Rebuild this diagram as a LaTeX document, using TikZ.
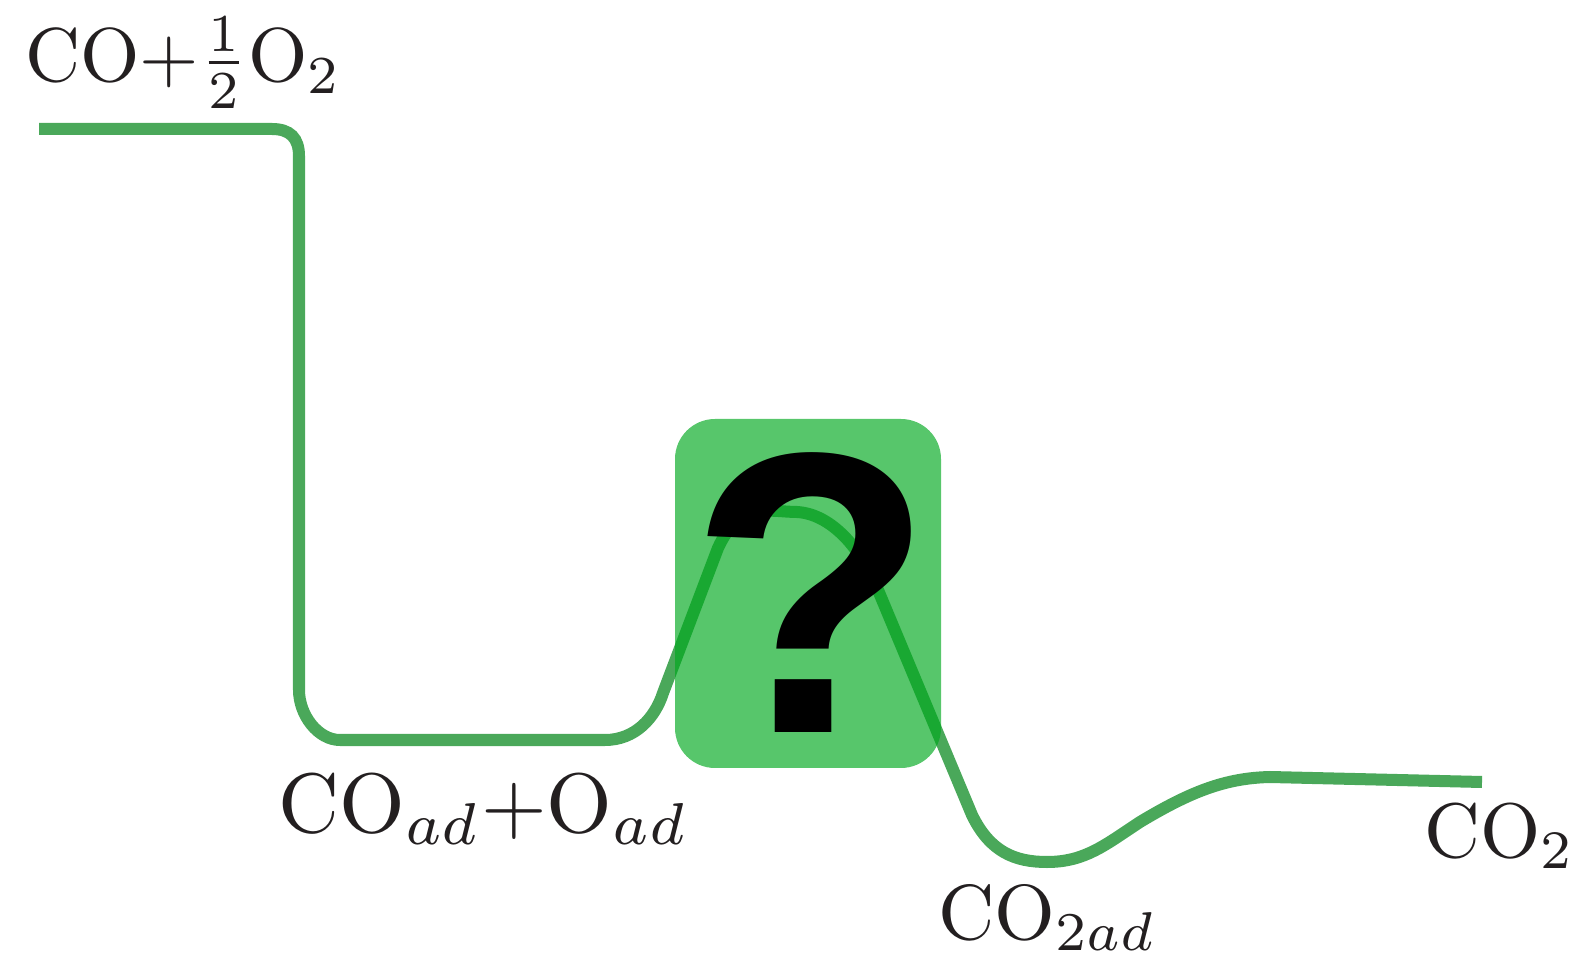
\documentclass[tikz,border=0pt]{standalone}
\usepackage{fontspec}
\newfontfamily\qmarkfont{Liberation Sans}
\usetikzlibrary{positioning}
\definecolor{pathgreen}{RGB}{74,168,90}
\definecolor{boxgreen}{RGB}{0,169,30}
\definecolor{labelgray}{RGB}{35,31,32}

\begin{document}
\begin{tikzpicture}[x=0.01cm, y=-0.01cm,
    energy/.style={line width=0.12cm, pathgreen},
    species/.style={inner sep=0pt, anchor=base west, text=labelgray},
    unknown/.style={fill=boxgreen, fill opacity=0.66, rounded corners=0.4cm}]
    \useasboundingbox (0,0) rectangle (1578,958);

    % Reaction path
    \draw[energy] (39,129) -- (272,129)
      .. controls (290,129) and (299,138) .. (299,156) -- (299,690)
      .. controls (299,715) and (318,740) .. (340,740) -- (605,740)
      .. controls (635,740) and (655,718) .. (663,693) -- (718,548)
      .. controls (740,500) and (770,512) .. (797,512)
      .. controls (832,514) and (862,550) .. (878,590) -- (972,815)
      .. controls (990,852) and (1015,862) .. (1047,862)
      .. controls (1085,862) and (1105,845) .. (1140,822)
      .. controls (1190,792) and (1225,778) .. (1270,777) -- (1482,782);

    % Transition state box
    \fill[unknown] (675,419) rectangle (941,768);
    \node[inner sep=0pt, anchor=base, font=\qmarkfont\bfseries\fontsize{114}{114}\selectfont]
      (qmark) at (812,732) {?};

    % Species
    \node[species, scale=2.17] (reactants) at (24,82)
      {$\mathrm{CO}{+}\frac{1}{2}\mathrm{O}_2$};
    \node[species, scale=2.4] (adsorbed) at (277,832)
      {$\mathrm{CO}_{ad}{+}\mathrm{O}_{ad}$};
    \node[species, scale=2.22] (productad) at (937,939)
      {$\mathrm{CO}_{2ad}$};
    \node[species, scale=2.2] (product) at (1423,857)
      {$\mathrm{CO}_2$};
\end{tikzpicture}
\end{document}
